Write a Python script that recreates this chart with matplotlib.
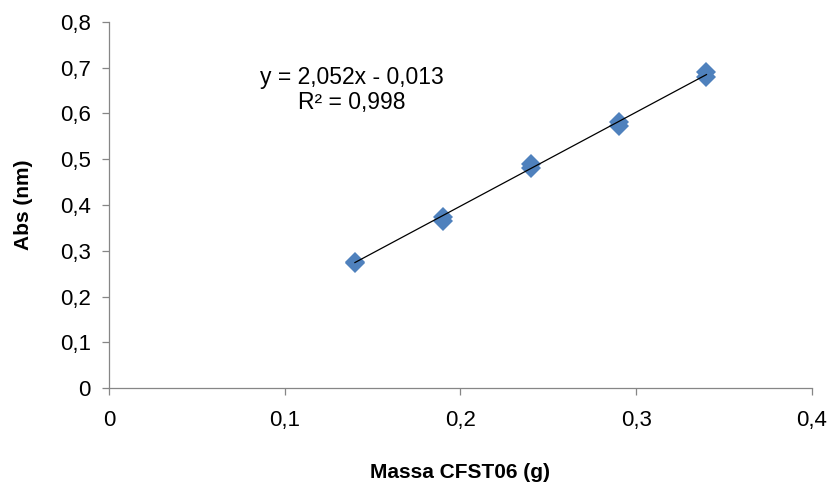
import matplotlib.pyplot as plt
import numpy as np

plt.rcParams['font.family'] = ['Liberation Sans', 'DejaVu Sans']

massa = [0.14, 0.14, 0.19, 0.19, 0.24, 0.24, 0.29, 0.29, 0.34, 0.34]
absorb = [0.275, 0.274, 0.366, 0.373, 0.480, 0.489, 0.573, 0.581, 0.679, 0.691]

x_ticks = [0, 0.1, 0.2, 0.3, 0.4]
y_ticks = [0, 0.1, 0.2, 0.3, 0.4, 0.5, 0.6, 0.7, 0.8]

# linha de tendência com os coeficientes mostrados no gráfico
k, b = 2.052, -0.013

fig = plt.figure(figsize=(8.31, 4.84), dpi=100)
ax = fig.add_axes([0.131, 0.198, 0.846, 0.757])

xs = np.array([min(massa), max(massa)])
ax.plot(xs, k * xs + b, color='black', lw=0.9, zorder=3)
ax.plot(massa, absorb, 'D', color='#4F81BD', markersize=10, markeredgewidth=0, zorder=2)

ax.set_xlim(0, 0.4)
ax.set_ylim(0, 0.8)
ax.set_xticks(x_ticks)
ax.set_yticks(y_ticks)
fmt = lambda v: ('%g' % v).replace('.', ',')
ax.set_xticklabels([fmt(v) for v in x_ticks])
ax.set_yticklabels([fmt(v) for v in y_ticks])

for s in ['top', 'right']:
    ax.spines[s].set_visible(False)
for s in ['left', 'bottom']:
    ax.spines[s].set_color('#868686')
    ax.spines[s].set_linewidth(0.9)
ax.tick_params(axis='both', colors='#868686', labelcolor='black', labelsize=16,
               length=5, width=0.9, direction='out')
ax.tick_params(axis='x', pad=11)
ax.tick_params(axis='y', pad=8)

ax.set_xlabel('Massa CFST06 (g)', fontsize=15, fontweight='bold', labelpad=23)
ax.set_ylabel('Abs (nm)', fontsize=15, fontweight='bold', labelpad=19)

ax.text(0.138, 0.651, 'y = 2,052x - 0,013\nR² = 0,998', fontsize=16.5,
        ha='center', va='center', linespacing=1.1)

fig.savefig('out.png', dpi=100)
